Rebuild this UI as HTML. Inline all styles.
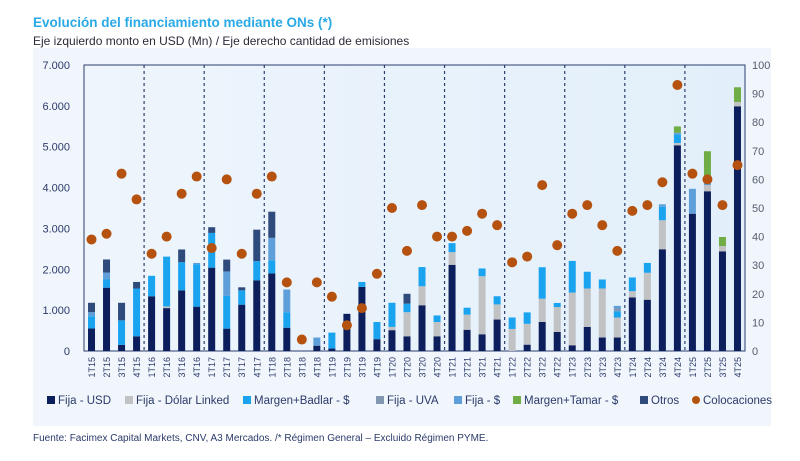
<!DOCTYPE html>
<html><head><meta charset="utf-8"><style>
body{margin:0;width:800px;height:456px;background:#fff;font-family:"Liberation Sans",sans-serif;overflow:hidden}
</style></head><body>
<svg id="c" width="800" height="456" xmlns="http://www.w3.org/2000/svg">
<defs><linearGradient id="pg" x1="0" y1="0" x2="1" y2="0"><stop offset="0" stop-color="#eef5fc"/><stop offset="1" stop-color="#e2effa"/></linearGradient></defs>
<rect x="33" y="48" width="738" height="378" fill="#f0f6fc"/>
<rect x="84" y="65" width="661" height="286" fill="url(#pg)" stroke="#2d3f6e" stroke-width="1"/>
<text x="33" y="27" font-size="13.5" font-weight="bold" fill="#29a9e6">Evolución del financiamiento mediante ONs (*)</text>
<text x="33" y="45" font-size="12" fill="#2b2b3a">Eje izquierdo monto en USD (Mn) / Eje derecho cantidad de emisiones</text>
<text x="33" y="441" font-size="10" fill="#2b3a6a">Fuente: Facimex Capital Markets, CNV, A3 Mercados. /* Régimen General – Excluido Régimen PYME.</text>
<g id="g"></g>
</svg>
<script>
const categories=["1T15","2T15","3T15","4T15","1T16","2T16","3T16","4T16","1T17","2T17","3T17","4T17","1T18","2T18","3T18","4T18","1T19","2T19","3T19","4T19","1T20","2T20","3T20","4T20","1T21","2T21","3T21","4T21","1T22","2T22","3T22","4T22","1T23","2T23","3T23","4T23","1T24","2T24","3T24","4T24","1T25","2T25","3T25","4T25"];
const fijaUSD=[550,1550,150,360,1340,1050,1485,1085,2040,547,1134,1730,1900,570,0,130,60,910,1570,290,510,360,1120,360,2110,520,410,770,0,155,710,465,140,590,330,330,1310,1255,2490,5035,3360,3910,2440,5990];
const fijaDL=[0,0,0,0,0,40,0,0,0,0,0,0,0,0,0,0,0,0,0,0,80,590,465,350,310,370,1420,370,540,510,570,610,1290,940,1200,490,155,660,710,57,0,150,130,105];
const badlar=[300,200,600,1170,500,1220,690,1040,850,800,350,470,320,380,0,0,390,0,120,420,590,210,470,160,220,170,190,200,280,280,770,100,775,410,220,155,335,240,330,210,0,0,0,0];
const fijaUVA=[0,0,0,0,0,0,0,0,0,0,0,0,0,0,0,0,0,0,0,0,0,0,0,0,0,0,0,0,0,0,0,0,0,0,0,65,0,0,0,0,0,0,0,0];
const fijaPesos=[100,170,0,0,0,0,0,30,0,600,0,0,550,555,0,200,0,0,0,0,0,0,0,0,0,0,0,0,0,0,0,0,0,0,0,65,0,0,60,40,610,80,0,0];
const tamar=[0,0,0,0,0,0,0,0,0,0,0,0,0,0,0,0,0,0,0,0,0,0,0,0,0,0,0,0,0,0,0,0,0,0,0,0,0,0,0,155,0,750,220,360];
const otros=[230,320,430,160,0,0,310,0,140,290,75,770,640,0,0,0,0,0,0,0,0,240,0,0,0,0,0,0,0,0,0,0,0,0,0,0,0,0,0,0,0,0,0,0];
const colocaciones=[39,41,62,53,34,40,55,61,36,60,34,55,61,24,4,24,19,9,15,27,50,35,51,40,40,42,48,44,31,33,58,37,48,51,44,35,49,51,59,93,62,60,51,65];
const leftTicks=[0,1000,2000,3000,4000,5000,6000,7000];
const leftTickLabels=["0","1.000","2.000","3.000","4.000","5.000","6.000","7.000"];
const rightTicks=[0,10,20,30,40,50,60,70,80,90,100];

const X0=84,X1=745,Y0=351,Y1=65,NS="http://www.w3.org/2000/svg";
const bw=(X1-X0)/categories.length;
const xs=i=>X0+bw*(i+0.5);
const yL=v=>Y0-(v/7000)*(Y0-Y1);
const yR=v=>Y0-(v/100)*(Y0-Y1);
const g=document.getElementById('g');
function mk(t,a){const e=document.createElementNS(NS,t);for(const k in a)e.setAttribute(k,a[k]);g.appendChild(e);return e;}
leftTicks.forEach((v,i)=>{const t=mk('text',{x:70,y:yL(v)+4,'font-size':11,fill:'#2b3a6a','text-anchor':'end'});t.textContent=leftTickLabels[i];

});
rightTicks.forEach(v=>{const t=mk('text',{x:752,y:yR(v)+4,'font-size':11,fill:'#555d6b'});t.textContent=v;

});
for(let k=1;k<11;k++){const x=X0+bw*4*k;const l=mk('line',{x1:x,x2:x,y1:Y1,y2:Y0,stroke:'#2d3f6e','stroke-width':1.2,'stroke-dasharray':'3,3'});

}
const series=[[fijaUSD,'#0c1f5c','fija-usd'],[fijaDL,'#c0c2c4','fija-dolar-linked'],[badlar,'#1aa3ef','margen-badlar'],[fijaUVA,'#8497b0','fija-uva'],[fijaPesos,'#5f9fd9','fija-pesos'],[tamar,'#70ad47','margen-tamar'],[otros,'#2f4b7c','otros']];
categories.forEach((c,i)=>{let acc=0;
series.forEach(([arr,col,nm])=>{const v=arr[i];if(v>0){const r=mk('rect',{x:xs(i)-3.5,width:7,y:yL(acc+v),height:yL(acc)-yL(acc+v),fill:col});

}acc+=v;});
const t=mk('text',{transform:`translate(${xs(i)+3.5},${Y0+6}) rotate(-90)`,'font-size':9,fill:'#2b3a6a','text-anchor':'end'});t.textContent=c;


});
colocaciones.forEach((v,i)=>{const d=mk('circle',{cx:xs(i),cy:yR(v),r:5,fill:'#b5520f'});

});
const leg=[['Fija - USD','#0c1f5c',47],['Fija - Dólar Linked','#c0c2c4',125],['Margen+Badlar - $','#1aa3ef',243],['Fija - UVA','#8497b0',376],['Fija - $','#5f9fd9',454],['Margen+Tamar - $','#70ad47',513],['Otros','#2f4b7c',640],['Colocaciones','#b5520f',692]];
leg.forEach(([n,col,x],i)=>{let m;if(i==7){m=mk('circle',{cx:x+4,cy:400,r:4,fill:col});}else{m=mk('rect',{x:x,y:396,width:8,height:8,fill:col});}


const t=mk('text',{x:x+11,y:404,'font-size':11.5,fill:'#2b3a6a'});t.textContent=n;

});
</script>
</body></html>
